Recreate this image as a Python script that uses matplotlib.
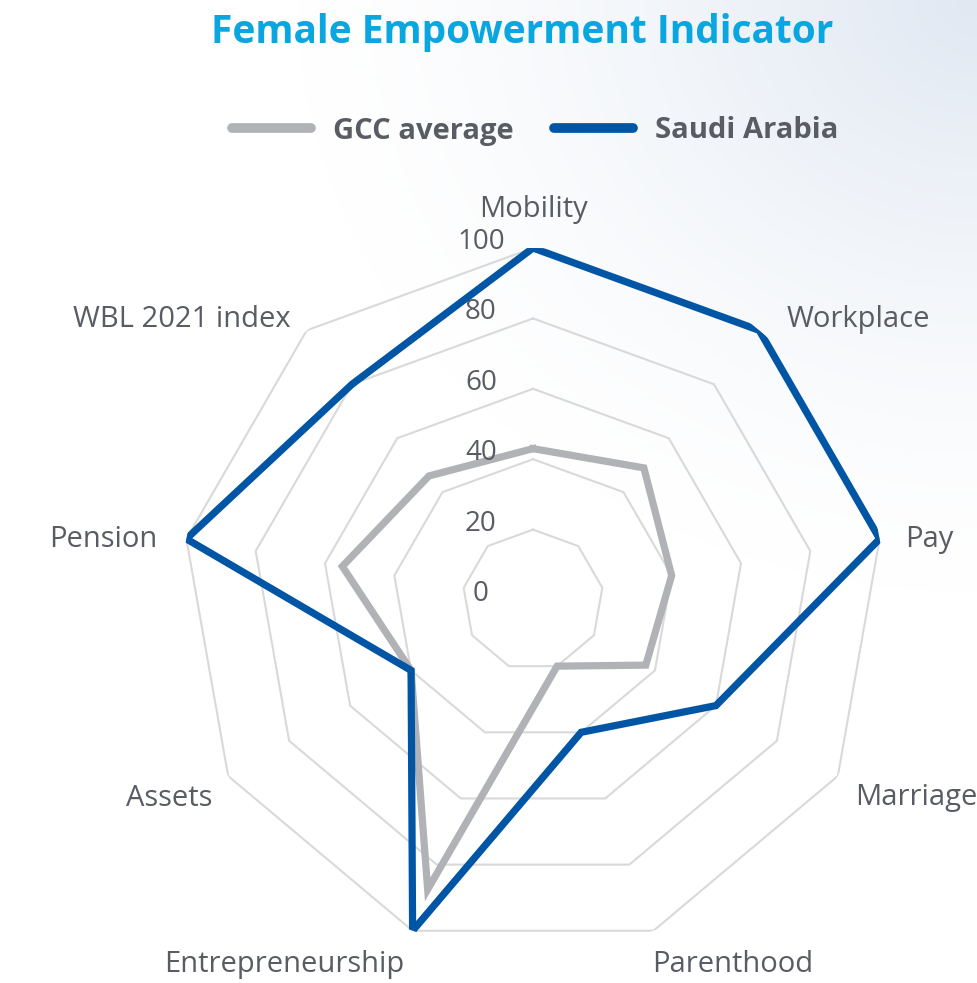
import numpy as np
import matplotlib
matplotlib.use('Agg')
import matplotlib.pyplot as plt
from matplotlib.lines import Line2D

categories = ['Mobility', 'Workplace', 'Pay', 'Marriage', 'Parenthood',
              'Entrepreneurship', 'Assets', 'Pension', 'WBL 2021 index']
gcc_average = [43, 49, 40, 37, 20, 87.5, 40, 55, 46]
saudi_arabia = [100, 100, 100, 60, 40, 100, 40, 100, 80]
ring_levels = [0, 20, 40, 60, 80, 100]
series_names = ['GCC average', 'Saudi Arabia']
title = 'Female Empowerment Indicator'

GREY = '#b1b2b6'
BLUE = '#0055a5'
TEXT = '#595c63'
FONT = 'Open Sans'

# label offsets (pixels) from the 100-ring vertex, and alignment
label_offsets = [(0, 38, 'center'), (27, 11, 'left'), (25, -1, 'left'),
                 (17, -22, 'left'), (-1, -34, 'left'), (-8, -34, 'right'),
                 (-16, -22, 'right'), (-29, -1, 'right'), (-16, 11, 'right')]

W, H = 977, 983
fig = plt.figure(figsize=(W / 100, H / 100), dpi=100)

# soft bluish gradient in the top right corner
bg = fig.add_axes([0, 0, 1, 1], zorder=-10)
bg.set_axis_off()
yy, xx = np.mgrid[0:H, 0:W]
d = np.hypot(W - xx, yy * 1.15)
f = np.clip(1 - d / 680, 0, 1) ** 1.4
tint = np.array([0.88, 0.91, 0.95])
img = 1 - f[..., None] * (1 - tint)
bg.imshow(img, extent=[0, 1, 0, 1], aspect='auto')

cx, cy, R = 533, 600, 352
ax = fig.add_axes([(cx - R) / W, (H - cy - R) / H, 2 * R / W, 2 * R / H],
                  projection='polar')
ax.set_theta_offset(np.pi / 2)
ax.set_theta_direction(-1)
ax.set_ylim(0, 100)
ax.set_axis_off()

n = len(categories)
angles = np.linspace(0, 2 * np.pi, n, endpoint=False)
closed = np.append(angles, angles[0])

for lvl in ring_levels[1:]:
    ax.plot(closed, [lvl] * (n + 1), color='#d9d9d9', lw=1.5, zorder=1)

ax.plot(closed, gcc_average + gcc_average[:1], color=GREY, lw=5.2,
        solid_joinstyle='miter', zorder=3)
ax.plot(closed, saudi_arabia + saudi_arabia[:1], color=BLUE, lw=5.2,
        solid_joinstyle='miter', zorder=4)

for lvl in ring_levels:
    ax.annotate(str(lvl), xy=(0, lvl), xytext=(-52, 6), textcoords='offset pixels',
                ha='center', va='center', fontsize=20, color=TEXT, family=FONT,
                annotation_clip=False)

for ang, name, (dx, dy, ha) in zip(angles, categories, label_offsets):
    ax.annotate(name, xy=(ang, 100), xytext=(dx, dy), textcoords='offset pixels',
                ha=ha, va='center', fontsize=21, color=TEXT, family=FONT,
                annotation_clip=False)

fig.text(522 / W, 1 - 32 / H, title, ha='center', va='center', fontsize=28,
         fontweight='bold', color='#0aa6e0', family=FONT)

handles = [Line2D([], [], color=GREY, lw=7, solid_capstyle='round'),
           Line2D([], [], color=BLUE, lw=7, solid_capstyle='round')]
fig.legend(handles, series_names, loc='center', bbox_to_anchor=(535 / W, 1 - 131 / H),
           ncol=2, frameon=False, handlelength=2.7, handletextpad=0.75,
           columnspacing=1.4, prop={'family': FONT, 'weight': 'bold', 'size': 21},
           labelcolor=TEXT)

fig.savefig('out.png', dpi=100)
